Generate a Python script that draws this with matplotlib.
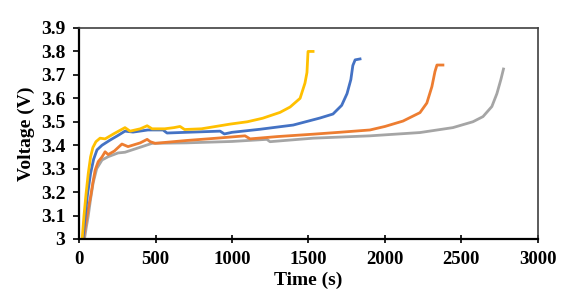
import numpy as np
import matplotlib.pyplot as plt

plt.rcParams['font.family'] = ['Liberation Serif', 'DejaVu Serif']
plt.rcParams['font.weight'] = 'bold'

# yellow
t_yel = [20, 32, 45, 60, 75, 90, 110, 137, 170, 230, 300, 333, 400, 445, 477, 560, 620, 660, 690,
         800, 987, 1100, 1200, 1314, 1380, 1445, 1477, 1490, 1497, 1530]
v_yel = [3.0, 3.1, 3.19, 3.28, 3.35, 3.39, 3.415, 3.43, 3.427, 3.45, 3.475, 3.46, 3.47, 3.483,
         3.47, 3.47, 3.475, 3.48, 3.467, 3.47, 3.49, 3.50, 3.515, 3.54, 3.563, 3.60, 3.665,
         3.71, 3.80, 3.80]
# blue
t_blu = [25, 40, 55, 75, 95, 117, 150, 203, 250, 300, 353, 450, 549, 575, 700, 922, 950, 1000,
         1183, 1400, 1575, 1660, 1717, 1752, 1777, 1790, 1805, 1837]
v_blu = [3.0, 3.1, 3.19, 3.28, 3.34, 3.38, 3.40, 3.422, 3.44, 3.46, 3.456, 3.465, 3.465, 3.452,
         3.455, 3.46, 3.448, 3.455, 3.468, 3.486, 3.516, 3.533, 3.57, 3.62, 3.68, 3.74,
         3.764, 3.768]
# orange
t_ora = [28, 45, 60, 75, 90, 105, 125, 150, 170, 190, 230, 280, 320, 400, 445, 465, 497, 700,
         900, 1085, 1118, 1300, 1530, 1700, 1902, 2000, 2118, 2229, 2274, 2307, 2327, 2340, 2379]
v_ora = [3.0, 3.07, 3.13, 3.18, 3.24, 3.294, 3.33, 3.35, 3.372, 3.36, 3.375, 3.405, 3.394,
         3.41, 3.425, 3.415, 3.408, 3.42, 3.43, 3.44, 3.427, 3.437, 3.447, 3.455, 3.465, 3.48,
         3.503, 3.539, 3.58, 3.65, 3.714, 3.742, 3.742]
# gray
t_gry = [35, 47, 59, 75, 92, 115, 150, 190, 255, 300, 412, 477, 700, 1000, 1228, 1248, 1530,
         1902, 2229, 2444, 2575, 2641, 2699, 2732, 2758, 2775]
v_gry = [3.0, 3.05, 3.095, 3.17, 3.24, 3.3, 3.337, 3.351, 3.367, 3.37, 3.394, 3.408, 3.41,
         3.416, 3.425, 3.415, 3.43, 3.44, 3.454, 3.475, 3.50, 3.522, 3.565, 3.62, 3.68, 3.725]

x_ticks = [0, 500, 1000, 1500, 2000, 2500, 3000]
y_ticks = np.arange(3.0, 3.91, 0.1)
y_labels = ['3', '3.1', '3.2', '3.3', '3.4', '3.5', '3.6', '3.7', '3.8', '3.9']

fig = plt.figure(figsize=(5.65, 2.99), dpi=100)
ax = fig.add_axes([0.14, 0.2007, 0.812, 0.7057])

ax.plot(t_gry, v_gry, color='#A5A5A5', lw=2)
ax.plot(t_ora, v_ora, color='#ED7D31', lw=2)
ax.plot(t_blu, v_blu, color='#4472C4', lw=2)
ax.plot(t_yel, v_yel, color='#FFC000', lw=2)

ax.set_xlim(0, 3000)
ax.set_ylim(3.0, 3.9)
ax.set_xticks(x_ticks)
ax.set_yticks(y_ticks)
ax.set_yticklabels(y_labels)

for s in ['left', 'bottom']:
    ax.spines[s].set_color('black')
    ax.spines[s].set_linewidth(1.6)
for s in ['top', 'right']:
    ax.spines[s].set_color('#404040')
    ax.spines[s].set_linewidth(1.2)

ax.tick_params(axis='x', direction='inout', length=6, width=1.2, labelsize=13.5, pad=6)
ax.tick_params(axis='y', direction='out', length=4, width=1.2, labelsize=14, pad=6)
for lab in ax.get_xticklabels() + ax.get_yticklabels():
    lab.set_fontweight('bold')

ax.set_xlabel('Time (s)', fontsize=14, fontweight='bold', labelpad=2)
ax.set_ylabel('Voltage (V)', fontsize=14, fontweight='bold', labelpad=4)

fig.savefig('out.png', dpi=100)
